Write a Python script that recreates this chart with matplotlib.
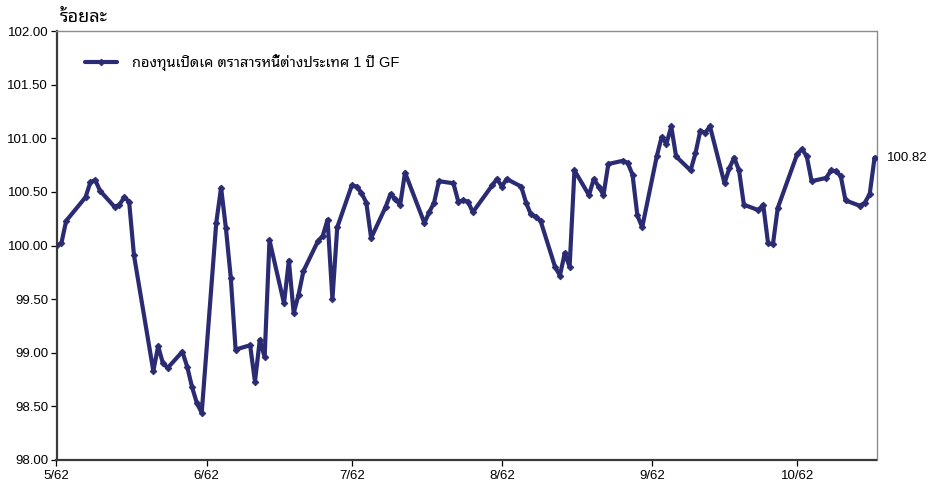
import matplotlib
matplotlib.use("Agg")
import matplotlib.pyplot as plt
import matplotlib.dates as mdates
import numpy as np
import pandas as pd

# ---------------- data ----------------
dates = [
    "2019-05-01", "2019-05-02", "2019-05-03", "2019-05-07", "2019-05-08", "2019-05-09",
    "2019-05-10", "2019-05-13", "2019-05-14", "2019-05-15", "2019-05-16", "2019-05-17",
    "2019-05-21", "2019-05-22", "2019-05-23", "2019-05-24", "2019-05-27", "2019-05-28",
    "2019-05-29", "2019-05-30", "2019-05-31",
    "2019-06-03", "2019-06-04", "2019-06-05", "2019-06-06", "2019-06-07", "2019-06-10",
    "2019-06-11", "2019-06-12", "2019-06-13", "2019-06-14", "2019-06-17", "2019-06-18",
    "2019-06-19", "2019-06-20", "2019-06-21", "2019-06-24", "2019-06-25", "2019-06-26",
    "2019-06-27", "2019-06-28",
    "2019-07-01", "2019-07-02", "2019-07-03", "2019-07-04", "2019-07-05", "2019-07-08",
    "2019-07-09", "2019-07-10", "2019-07-11", "2019-07-12", "2019-07-16", "2019-07-17",
    "2019-07-18", "2019-07-19", "2019-07-22", "2019-07-23", "2019-07-24", "2019-07-25",
    "2019-07-26", "2019-07-30", "2019-07-31",
    "2019-08-01", "2019-08-02", "2019-08-05", "2019-08-06", "2019-08-07", "2019-08-08",
    "2019-08-09", "2019-08-12", "2019-08-13", "2019-08-14", "2019-08-15", "2019-08-16",
    "2019-08-19", "2019-08-20", "2019-08-21", "2019-08-22", "2019-08-23", "2019-08-26",
    "2019-08-27", "2019-08-28", "2019-08-29", "2019-08-30",
    "2019-09-02", "2019-09-03", "2019-09-04", "2019-09-05", "2019-09-06", "2019-09-09",
    "2019-09-10", "2019-09-11", "2019-09-12", "2019-09-13", "2019-09-16", "2019-09-17",
    "2019-09-18", "2019-09-19", "2019-09-20", "2019-09-23", "2019-09-24", "2019-09-25",
    "2019-09-26", "2019-09-27",
    "2019-10-01", "2019-10-02", "2019-10-03", "2019-10-04", "2019-10-07", "2019-10-08",
    "2019-10-09", "2019-10-10", "2019-10-11", "2019-10-14", "2019-10-15", "2019-10-16",
    "2019-10-17",
]
values = [
    100.00, 100.02, 100.23, 100.45, 100.59, 100.61,
    100.51, 100.36, 100.38, 100.45, 100.41, 99.91,
    98.83, 99.06, 98.90, 98.86, 99.01, 98.87,
    98.68, 98.53, 98.44,
    100.21, 100.54, 100.16, 99.70, 99.03, 99.07,
    98.73, 99.12, 98.96, 100.05, 99.46, 99.86,
    99.37, 99.54, 99.76, 100.04, 100.09, 100.24,
    99.50, 100.17,
    100.56, 100.55, 100.49, 100.40, 100.07, 100.36,
    100.48, 100.43, 100.38, 100.68, 100.21, 100.31,
    100.40, 100.60, 100.58, 100.41, 100.42, 100.41,
    100.31, 100.56, 100.62,
    100.55, 100.62, 100.55, 100.40, 100.29, 100.27,
    100.23, 99.80, 99.72, 99.93, 99.80, 100.70,
    100.47, 100.62, 100.55, 100.47, 100.76, 100.79,
    100.77, 100.66, 100.28, 100.17,
    100.83, 101.01, 100.95, 101.11, 100.83, 100.70,
    100.86, 101.07, 101.05, 101.11, 100.58, 100.72,
    100.82, 100.70, 100.38, 100.33, 100.38, 100.02,
    100.01, 100.35,
    100.85, 100.90, 100.83, 100.60, 100.63, 100.70,
    100.69, 100.65, 100.42, 100.37, 100.40, 100.48,
    100.82,
]
series_name = "กองทุนเปิดเค ตราสารหนี้ต่างประเทศ 1 ปี GF"
y_title = "ร้อยละ"
month_ticks = ["2019-05-01", "2019-06-01", "2019-07-01", "2019-08-01", "2019-09-01", "2019-10-01"]
month_labels = ["5/62", "6/62", "7/62", "8/62", "9/62", "10/62"]
last_label = "100.82"

# ---------------- style ----------------
LINE = "#2A2B72"
FONT = ["Liberation Sans", "Noto Sans Thai Looped", "DejaVu Sans"]
plt.rcParams["font.family"] = FONT

x = pd.to_datetime(dates)

fig = plt.figure(figsize=(9.35, 4.82), dpi=100)
W, H = 935, 482
ax = fig.add_axes([56.5 / W, 1 - 460 / H, (876.5 - 56.5) / W, (460 - 31) / H])

ax.plot(x, values, color=LINE, lw=3.0, marker="D", markersize=3.4,
        markeredgewidth=0.6, solid_joinstyle="round", solid_capstyle="round",
        label=series_name, zorder=3)

ax.set_ylim(98.0, 102.0)
ax.set_yticks(np.arange(98.0, 102.01, 0.5))
ax.yaxis.set_major_formatter(matplotlib.ticker.FormatStrFormatter("%.2f"))

start = pd.Timestamp("2019-05-01")
ax.set_xlim(mdates.date2num(start), mdates.date2num(start) + 169.4)
ax.set_xticks(pd.to_datetime(month_ticks))
ax.set_xticklabels(month_labels)

ax.tick_params(axis="both", direction="out", length=4, width=0.9, colors="black",
               labelsize=9.5, pad=2)
ax.tick_params(axis="x", pad=3)

for side in ["left", "bottom"]:
    ax.spines[side].set_color("#3a3a3a")
    ax.spines[side].set_linewidth(1.6)
for side in ["top", "right"]:
    ax.spines[side].set_color("#8c8c8c")
    ax.spines[side].set_linewidth(1.0)

leg = ax.legend(loc="center left", bbox_to_anchor=((85 - 56.5) / 820, (460 - 63) / 429),
                frameon=False, fontsize=10.5, handlelength=2.2, handletextpad=1.05,
                borderpad=0, borderaxespad=0)

ax.annotate(last_label, xy=(x[-1], values[-1]), xytext=(9, 0),
            textcoords="offset points", va="center", ha="left", fontsize=9.5,
            annotation_clip=False)

fig.text(60 / W, 1 - 17 / H, y_title, fontsize=13, fontweight="bold",
         va="center", ha="left")

fig.savefig("out.png", dpi=100)
